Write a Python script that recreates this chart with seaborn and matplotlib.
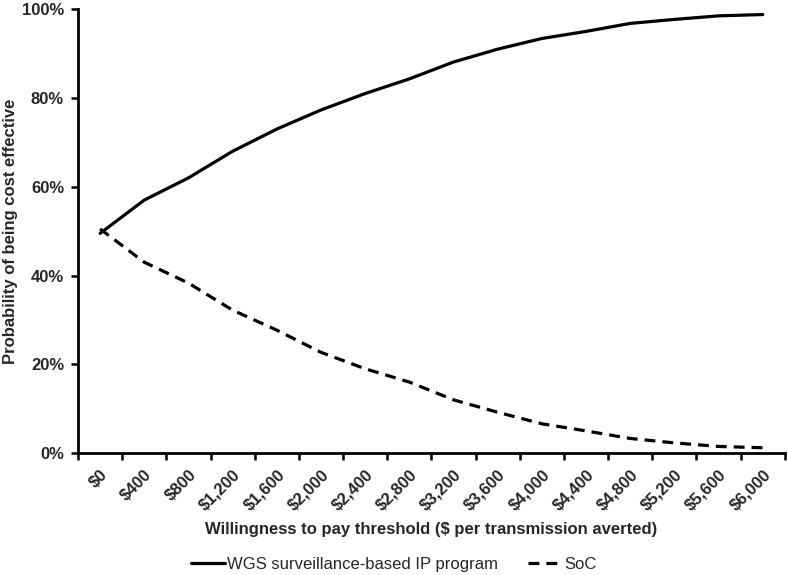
import numpy as np
import pandas as pd
import seaborn as sns
import matplotlib.pyplot as plt
from matplotlib.ticker import FixedLocator, PercentFormatter

# Willingness-to-pay thresholds (category axis)
wtp_labels = ["$0", "$400", "$800", "$1,200", "$1,600", "$2,000", "$2,400", "$2,800",
              "$3,200", "$3,600", "$4,000", "$4,400", "$4,800", "$5,200", "$5,600", "$6,000"]
# Probability of being cost effective (%)
wgs_prob = [49.5, 57.0, 62.0, 68.0, 73.0, 77.3, 81.0, 84.3, 88.1, 91.0, 93.4, 95.0, 96.8, 97.7, 98.5, 98.8]
soc_prob = [50.5, 43.0, 38.3, 32.2, 27.7, 22.7, 19.0, 16.0, 12.0, 9.2, 6.6, 5.0, 3.3, 2.3, 1.5, 1.2]
series_names = ["WGS surveillance-based IP program", "SoC"]

df = pd.DataFrame({
    "pos": list(range(len(wtp_labels))) * 2,
    "prob": wgs_prob + soc_prob,
    "series": [series_names[0]] * len(wtp_labels) + [series_names[1]] * len(wtp_labels),
})

sns.set_style("white")
plt.rcParams["font.family"] = ["Liberation Sans", "DejaVu Sans"]

LW = 2.3
DASH = (3.4, 2.2)

fig, ax = plt.subplots(figsize=(7.88, 5.75), dpi=100)
fig.subplots_adjust(left=0.099, right=0.996, top=0.984, bottom=0.212)

sns.lineplot(data=df, x="pos", y="prob", style="series", style_order=series_names,
             dashes={series_names[0]: "", series_names[1]: DASH},
             color="black", linewidth=LW, ax=ax, legend=False)

n = len(wtp_labels)
ax.set_xlim(-0.5, n - 0.5)
ax.set_ylim(0, 100)

# category axis: tick marks between categories, labels at category centres
ax.xaxis.set_major_locator(FixedLocator(np.arange(n)))
ax.xaxis.set_minor_locator(FixedLocator(np.arange(n + 1) - 0.5))
ax.set_xticklabels(wtp_labels, rotation=45, ha="right", rotation_mode="anchor",
                   fontweight="bold", fontsize=12)
ax.tick_params(axis="x", which="major", length=0, pad=10)
ax.tick_params(axis="x", which="minor", length=5, width=1.8, direction="out", color="black", bottom=True)

ax.set_yticks(np.arange(0, 101, 20))
ax.yaxis.set_major_formatter(PercentFormatter(decimals=0))
ax.tick_params(axis="y", length=5, width=1.8, direction="out", color="black", left=True,
               labelsize=12, pad=5)
for lbl in ax.get_yticklabels():
    lbl.set_fontweight("bold")

for side in ["top", "right"]:
    ax.spines[side].set_visible(False)
for side in ["left", "bottom"]:
    ax.spines[side].set_linewidth(2)
    ax.spines[side].set_color("black")

ax.set_xlabel("Willingness to pay threshold ($ per transmission averted)",
              fontweight="bold", fontsize=12, labelpad=6)
ax.set_ylabel("Probability of being cost effective", fontweight="bold", fontsize=12)
ax.yaxis.set_label_coords(-0.085, 0.5)

handles = [plt.Line2D([], [], color="black", lw=LW),
           plt.Line2D([], [], color="black", lw=LW, dashes=DASH)]
fig.legend(handles, series_names, loc="lower center", bbox_to_anchor=(0.5, -0.021), ncol=2,
           frameon=False, fontsize=12, handlelength=2.0, handletextpad=0.15, columnspacing=1.8)

fig.savefig("out.png", dpi=100)
